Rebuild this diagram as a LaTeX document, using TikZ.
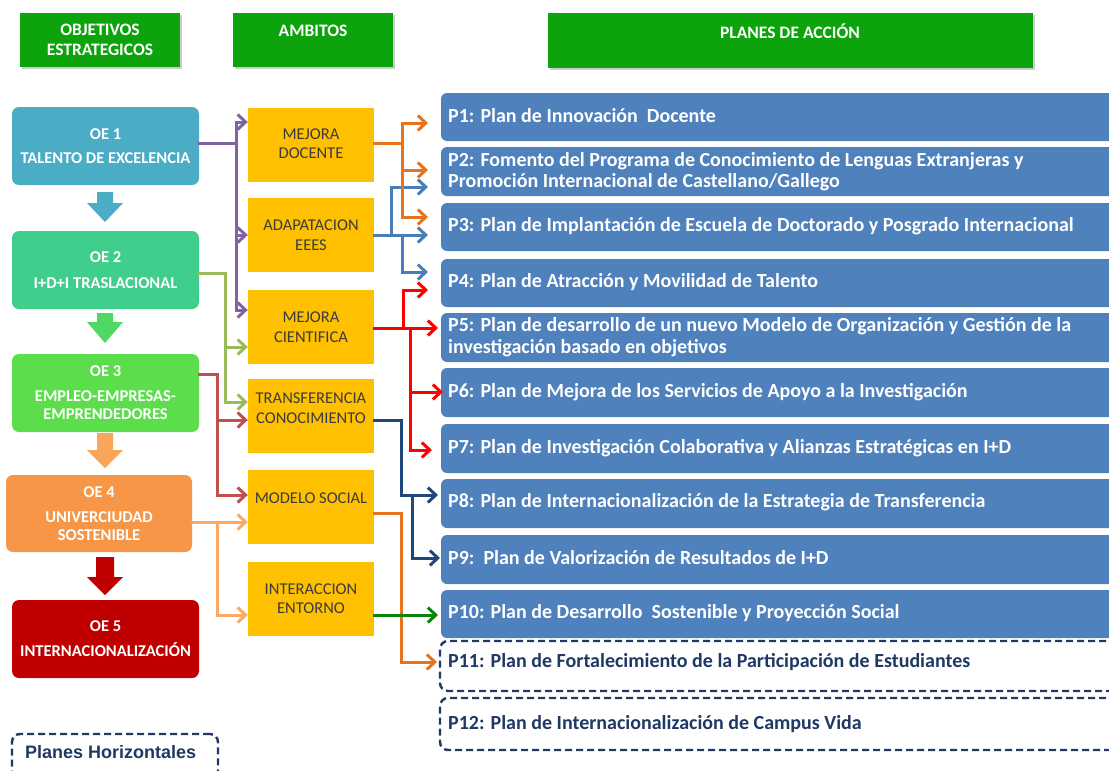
\documentclass[tikz,border=0pt]{standalone}
\usepackage{fontspec}
\setmainfont{Carlito}
\newfontfamily\arialf{Liberation Sans}
\usetikzlibrary{arrows.meta,shadows,calc}
\definecolor{hdrgreen}{RGB}{12,163,12}
\definecolor{oeone}{RGB}{75,172,198}
\definecolor{oetwo}{RGB}{64,206,140}
\definecolor{oethree}{RGB}{92,222,76}
\definecolor{oefour}{RGB}{247,150,70}
\definecolor{oefive}{RGB}{192,0,0}
\definecolor{arrtwo}{RGB}{80,216,100}
\definecolor{arrthree}{RGB}{249,166,90}
\definecolor{ambyel}{RGB}{255,192,0}
\definecolor{ambtext}{RGB}{60,60,60}
\definecolor{planblue}{RGB}{79,129,189}
\definecolor{navy}{RGB}{31,56,100}
\definecolor{cpurple}{RGB}{128,100,162}
\definecolor{colive}{RGB}{155,187,89}
\definecolor{cbrick}{RGB}{192,80,77}
\definecolor{clorange}{RGB}{250,170,100}
\definecolor{corange}{RGB}{230,115,30}
\definecolor{cblue}{RGB}{74,126,187}
\definecolor{cred}{RGB}{255,0,0}
\definecolor{cdblue}{RGB}{31,73,125}
\definecolor{cgreen}{RGB}{10,135,10}
\begin{document}
\begin{tikzpicture}[x=1pt,y=-1pt,
  hdr/.style={fill=hdrgreen, minimum width=160, minimum height=54, inner sep=0,
    text=white, font=\bfseries\fontsize{17.5}{20}\selectfont, align=center,
    drop shadow={opacity=0.4,shadow xshift=1.5pt,shadow yshift=-2pt}},
  hdrtxt/.style={text=white, font=\bfseries\fontsize{17.5}{20}\selectfont, align=center, inner sep=0},
  oebox/.style={rounded corners=7, minimum width=187, minimum height=78, inner sep=0,
    text=white, font=\bfseries\fontsize{16.5}{18}\selectfont, align=center},
  ambbox/.style={fill=ambyel, minimum width=126, minimum height=74, inner sep=0},
  ambtxt/.style={text=ambtext, font=\fontsize{16.5}{19.5}\selectfont, align=center, inner sep=0},
  plbox/.style={fill=planblue, rounded corners=6, minimum width=684, minimum height=48, inner sep=0},
  pltxt/.style={anchor=west, text=white, font=\bfseries\fontsize{20}{21.5}\selectfont, align=left, inner sep=0},
  hzbox/.style={draw=navy, line width=2.4, dash pattern=on 7pt off 4pt, rounded corners=8, inner sep=0},
  hztxt/.style={anchor=west, text=navy, font=\bfseries\fontsize{20}{21.5}\selectfont, align=left, inner sep=0},
  conn/.style={line width=3, line cap=rect},
  arr/.style={conn, -{Straight Barb[length=8pt,width=15pt]}}
]
\useasboundingbox (0,0) rectangle (1109,771);
\fill[white] (0,0) rectangle (1109,771);

% headers
\node[hdr] (hoe) at (100,40) {OBJETIVOS\\ESTRATEGICOS};
\node[hdr] (hamb) at (313,40) {};
\node[hdrtxt] (hambt) at (313,31) {AMBITOS};
\node[hdr, minimum width=485, minimum height=55] (hpa) at (790.5,40.5) {};
\node[hdrtxt] (hpat) at (790,31) {PLANES DE ACCIÓN};

% objetivos
\node[oebox, fill=oeone] (oe1) at (105.5,146) {OE 1\\[6pt]TALENTO DE EXCELENCIA};
\node[oebox, fill=oetwo] (oe2) at (105.5,270) {OE 2\\[8pt]I+D+I TRASLACIONAL};
\node[oebox, fill=oethree] (oe3) at (105.5,393) {OE 3\\[7pt]EMPLEO-EMPRESAS-\\EMPRENDEDORES};
\node[oebox, fill=oefour, minimum width=186, minimum height=77] (oe4) at (99,513.5) {OE 4\\[7pt]UNIVERCIUDAD\\SOSTENIBLE};
\node[oebox, fill=oefive] (oe5) at (105.5,639) {OE 5\\[7pt]INTERNACIONALIZACIÓN};

% block arrows
\fill[oeone] (97,192) -- (113,192) -- (113,203) -- (123,203) -- (105,222) -- (87,203) -- (97,203) -- cycle;
\fill[arrtwo] (97,313) -- (113,313) -- (113,322) -- (123,322) -- (105,343) -- (87,322) -- (97,322) -- cycle;
\fill[arrthree] (97,433) -- (113,433) -- (113,450) -- (123,450) -- (105,468) -- (87,450) -- (97,450) -- cycle;
\fill[oefive] (96,557) -- (114,557) -- (114,577) -- (123,577) -- (105,595) -- (87,577) -- (96,577) -- cycle;

% ambitos
\node[ambbox] (md) at (311,145) {};
\node[ambbox] (ad) at (311,235) {};
\node[ambbox] (mc) at (311,326.5) {};
\node[ambbox] (tc) at (311,416) {};
\node[ambbox] (ms) at (311,507) {};
\node[ambbox] (ie) at (311,599) {};
\node[ambtxt] (mdt) at (311,143.5) {MEJORA\\DOCENTE};
\node[ambtxt] (adt) at (311,235) {ADAPATACION\\EEES};
\node[ambtxt] (mct) at (311,327) {MEJORA\\CIENTIFICA};
\node[ambtxt] (tct) at (311,408) {TRANSFERENCIA\\CONOCIMIENTO};
\node[ambtxt] (mst) at (311,498) {MODELO SOCIAL};
\node[ambtxt] (iet) at (311,598.5) {INTERACCION\\ENTORNO};

% planes
\node[plbox] (p1) at (783,117) {};
\node[plbox, minimum height=49] (p2) at (783,171.5) {};
\node[plbox] (p3) at (783,227) {};
\node[plbox] (p4) at (783,283) {};
\node[plbox, minimum height=49] (p5) at (783,337.5) {};
\node[plbox, minimum height=49] (p6) at (783,392.5) {};
\node[plbox, minimum height=49] (p7) at (783,448.5) {};
\node[plbox, minimum height=49] (p8) at (783,503.5) {};
\node[plbox, minimum height=49] (p9) at (783,559.5) {};
\node[plbox] (p10) at (783,614) {};
\node[hzbox, minimum width=685, minimum height=50] (p11) at (782.5,666) {};
\node[hzbox, minimum width=685, minimum height=52] (p12) at (782.5,724) {};
\node[hzbox, minimum width=206, minimum height=61] (ph) at (115,764.5) {};

\node[pltxt] (p1t) at (448,116) {P1: Plan de Innovación\ \ Docente};
\node[pltxt] (p2t) at (448,171.5) {P2: Fomento del Programa de Conocimiento de Lenguas Extranjeras y\\Promoción Internacional de Castellano/Gallego};
\node[pltxt] (p3t) at (448,226) {P3: Plan de Implantación de Escuela de Doctorado y Posgrado Internacional};
\node[pltxt] (p4t) at (448,282) {P4: Plan de Atracción y Movilidad de Talento};
\node[pltxt] (p5t) at (448,337) {P5: Plan de desarrollo de un nuevo Modelo de Organización y Gestión de la\\investigación basado en objetivos};
\node[pltxt] (p6t) at (448,392) {P6: Plan de Mejora de los Servicios de Apoyo a la Investigación};
\node[pltxt] (p7t) at (448,448) {P7: Plan de Investigación Colaborativa y Alianzas Estratégicas en I+D};
\node[pltxt] (p8t) at (448,502) {P8: Plan de Internacionalización de la Estrategia de Transferencia};
\node[pltxt] (p9t) at (448,558) {P9:\ \ Plan de Valorización de Resultados de I+D};
\node[pltxt] (p10t) at (448,613) {P10: Plan de Desarrollo\ \ Sostenible y Proyección Social};
\node[hztxt] (p11t) at (448,662) {P11: Plan de Fortalecimiento de la Participación de Estudiantes};
\node[hztxt] (p12t) at (448,724) {P12: Plan de Internacionalización de Campus Vida};
\node[hztxt, font=\arialf\bfseries\fontsize{18}{20}\selectfont] (pht) at (25,752) {Planes Horizontales};

% ---- left connectors
\coordinate (pj) at (236,143);
\coordinate (pu1) at (236,122);
\coordinate (pu2) at (236,235);
\coordinate (pu3) at (236,310);
\draw[arr,cpurple] (oe1.east |- pj) -| (pu1) -- (md.west |- pu1);
\draw[arr,cpurple] (pj) -- (pu3) -- (mc.west |- pu3);
\draw[arr,cpurple] (pu2) -- (ad.west |- pu2);

\coordinate (oj) at (225,273);
\coordinate (ol1) at (225,347);
\coordinate (ol2) at (225,402);
\draw[arr,colive] (oe2.east |- oj) -- (oj) -- (ol2) -- (tc.west |- ol2);
\draw[arr,colive] (ol1) -- (mc.west |- ol1);

\coordinate (bj) at (217,374);
\coordinate (br1) at (217,420);
\coordinate (br2) at (217,495);
\draw[arr,cbrick] (oe3.east |- bj) -- (bj) -- (br2) -- (ms.west |- br2);
\draw[arr,cbrick] (br1) -- (tc.west |- br1);

\coordinate (lj) at (217,522);
\coordinate (lo2) at (217,615);
\draw[arr,clorange] (oe4.east |- lj) -- (ms.west |- lj);
\draw[arr,clorange] (lj) -- (lo2) -- (ie.west |- lo2);

% ---- right connectors
\coordinate (bj1) at (391,235);
\coordinate (bj2) at (402,235);
\coordinate (bt2) at (428,187);
\coordinate (bt3) at (428,235);
\coordinate (bt4) at (428,272);
\draw[arr,cblue] (ad.east) -- (bt3);
\draw[arr,cblue] (bj1) -- (bj1 |- bt2) -- (bt2);
\draw[arr,cblue] (bj2) -- (bj2 |- bt4) -- (bt4);

\coordinate (oj1) at (402,143);
\coordinate (ot1) at (428,123);
\coordinate (ot2) at (428,170);
\coordinate (ot3) at (428,217);
\draw[arr,corange] (md.east |- oj1) -- (oj1) -- (oj1 |- ot2) -- (ot2);
\draw[arr,corange] (oj1) -- (oj1 |- ot1) -- (ot1);
\draw[arr,corange] (oj1 |- ot2) -- (oj1 |- ot3) -- (ot3);

\coordinate (rj) at (403,328);
\coordinate (rk) at (410,328);
\coordinate (rt4) at (428,290);
\coordinate (rt5) at (438,328);
\coordinate (rt6) at (443,392);
\coordinate (rt7) at (432,450);
\draw[arr,cred] (mc.east |- rj) -- (rt5);
\draw[arr,cred] (rj) -- (rj |- rt4) -- (rt4);
\draw[arr,cred] (rk) -- (rk |- rt7) -- (rt7);
\draw[arr,cred] (rk |- rt6) -- (rt6);

\coordinate (dj) at (401,420);
\coordinate (dk) at (412,495);
\coordinate (dt8) at (438,495);
\coordinate (dt9) at (440,558);
\draw[arr,cdblue] (tc.east |- dj) -- (dj) -- (dj |- dt8) -- (dt8);
\draw[arr,cdblue] (dk) -- (dk |- dt9) -- (dt9);

\coordinate (mj) at (401,513);
\coordinate (mt11) at (437,662);
\draw[arr,corange] (ms.east |- mj) -- (mj) -- (mj |- mt11) -- (mt11);

\coordinate (gt) at (438,615);
\draw[arr,cgreen] (ie.east |- gt) -- (gt);
\end{tikzpicture}
\end{document}
